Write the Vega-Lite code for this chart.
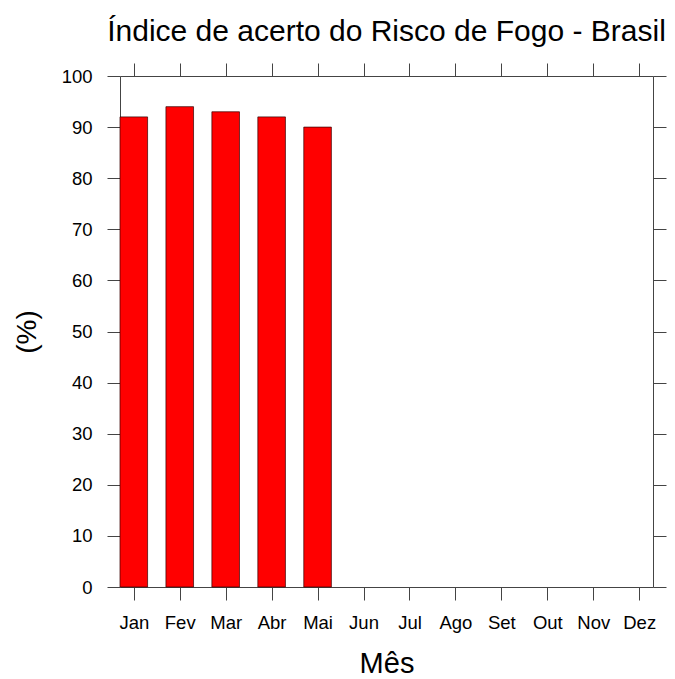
{
  "$schema": "https://vega.github.io/schema/vega-lite/v6.json",
  "width": 533,
  "height": 511,
  "autosize": {"type": "none"},
  "padding": {"left": 120, "top": 76, "right": 22, "bottom": 92},
  "background": "white",
  "config": {
    "font": "Liberation Sans",
    "view": {"stroke": "#444", "strokeWidth": 1},
    "axis": {"grid": false, "domain": false, "tickColor": "#444", "tickSize": 13, "tickWidth": 1, "labelColor": "#000", "labelFontSize": 18.5, "labelFont": "Liberation Sans", "titleFont": "Liberation Sans", "titleFontWeight": "normal", "titleColor": "#000"}
  },
  "title": {"text": "Índice de acerto do Risco de Fogo - Brasil", "fontSize": 30, "fontWeight": "normal", "font": "Liberation Sans", "color": "#000", "anchor": "middle", "frame": "group", "baseline": "bottom", "offset": -14},
  "data": {"values": [
    {"month": 1, "pct": 92}, {"month": 2, "pct": 94}, {"month": 3, "pct": 93},
    {"month": 4, "pct": 92}, {"month": 5, "pct": 90}, {"month": 6, "pct": null},
    {"month": 7, "pct": null}, {"month": 8, "pct": null}, {"month": 9, "pct": null},
    {"month": 10, "pct": null}, {"month": 11, "pct": null}, {"month": 12, "pct": null}
  ]},
  "layer": [
    {
      "mark": {"type": "bar", "width": 27.6, "color": "#FF0000", "stroke": "#300", "strokeWidth": 0.7},
      "encoding": {
        "x": {
          "field": "month", "type": "quantitative",
          "scale": {"domain": [0.7, 12.3], "nice": false, "zero": false, "padding": 0},
          "axis": {
            "orient": "bottom", "title": "Mês", "titleFontSize": 29, "titlePadding": 18,
            "values": [1,2,3,4,5,6,7,8,9,10,11,12],
            "labelExpr": "['Jan','Fev','Mar','Abr','Mai','Jun','Jul','Ago','Set','Out','Nov','Dez'][datum.value - 1]",
            "labelPadding": 13, "labelFlush": false, "labelOverlap": false
          }
        },
        "y": {
          "field": "pct", "type": "quantitative",
          "scale": {"domain": [0, 100], "nice": false, "padding": 0},
          "axis": {"orient": "left", "title": "(%)", "titleFontSize": 28, "titlePadding": 20, "values": [0,10,20,30,40,50,60,70,80,90,100], "labelPadding": 15}
        }
      }
    },
    {
      "mark": {"type": "bar", "width": 27.6, "opacity": 0},
      "encoding": {
        "x": {
          "field": "month", "type": "quantitative",
          "axis": {"orient": "top", "title": null, "labels": false, "values": [1,2,3,4,5,6,7,8,9,10,11,12]}
        },
        "y": {
          "field": "pct", "type": "quantitative",
          "axis": {"orient": "right", "title": null, "labels": false, "values": [0,10,20,30,40,50,60,70,80,90,100]}
        }
      }
    }
  ],
  "resolve": {"axis": {"x": "independent", "y": "independent"}}
}
